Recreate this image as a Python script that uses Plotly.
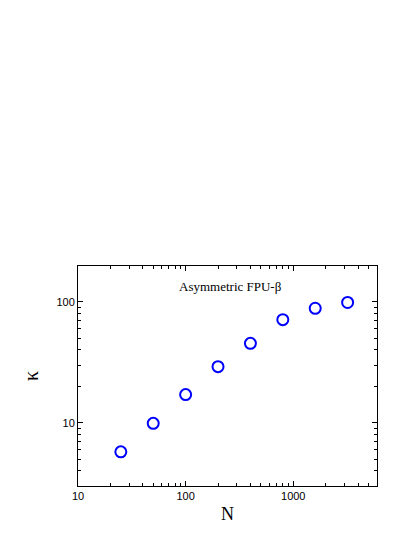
import numpy as np
import plotly.graph_objects as go

# system sizes and kappa values
N = [25, 50, 100, 200, 400, 800, 1600, 3200]
kappa = [5.75, 9.9, 17.1, 29.1, 45.4, 71.3, 88.5, 98.9]

fig = go.Figure()
fig.add_trace(go.Scatter(
    x=N, y=kappa, mode="markers",
    marker=dict(symbol="circle-open", size=11, color="#0000ff",
                line=dict(width=2, color="#0000ff")),
    showlegend=False,
))

axis_common = dict(
    type="log", showline=True, linecolor="black", linewidth=1, mirror="allticks",
    ticks="inside", ticklen=5, tickwidth=1, tickcolor="black",
    showgrid=False, zeroline=False,
    tickfont=dict(family="Liberation Sans, Arial", size=11, color="black"),
    minor=dict(ticks="inside", ticklen=3, tickwidth=1, tickcolor="black", showgrid=False),
)

fig.update_xaxes(axis_common, range=[1, np.log10(6000)], dtick=1,
                 title=dict(text="N", font=dict(family="Liberation Serif, Times New Roman", size=18,
                                                color="black"),
                            standoff=6))
fig.update_yaxes(axis_common, range=[np.log10(3.0), np.log10(198)], dtick=1,
                 title=dict(text="κ", font=dict(family="Liberation Serif, Times New Roman", size=20,
                                                color="black"),
                            standoff=12))

fig.add_annotation(text="Asymmetric FPU-β", x=0.51, y=0.905, xref="paper", yref="paper",
                   xanchor="center", yanchor="middle", showarrow=False,
                   font=dict(family="Liberation Serif, Times New Roman", size=13, color="black"))

# page body adds an 8px margin, so the figure is shrunk and shifted to match
fig.update_layout(
    width=407, height=529,
    margin=dict(l=70, r=38, t=258, b=51),
    paper_bgcolor="white", plot_bgcolor="white",
)

fig.write_html("out.html")
